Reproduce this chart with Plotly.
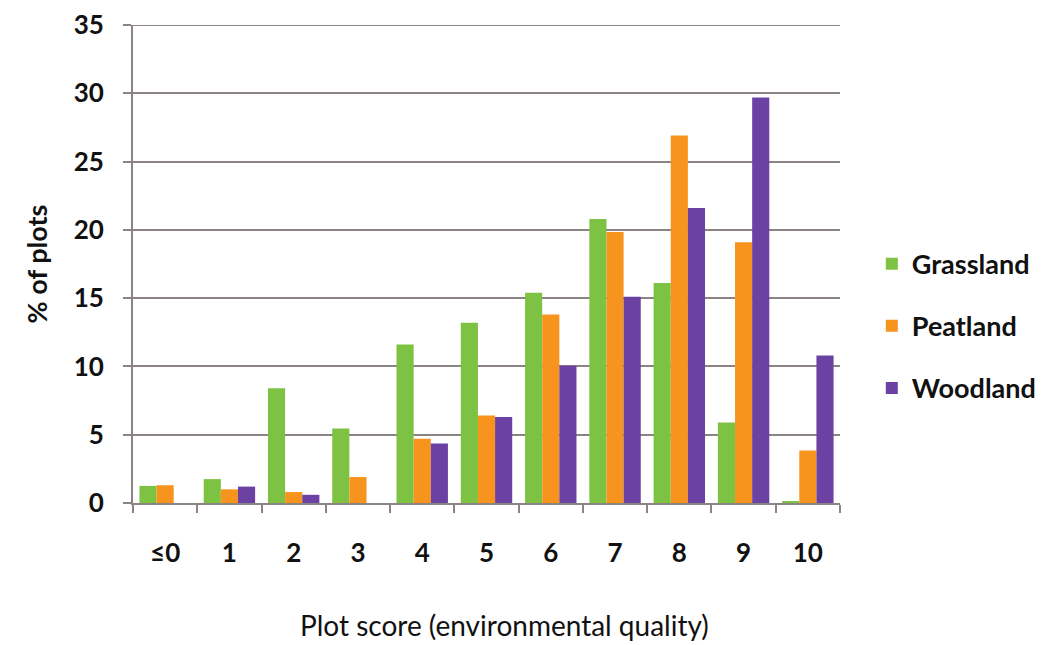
import plotly.graph_objects as go

categories = ["≤0", "1", "2", "3", "4", "5", "6", "7", "8", "9", "10"]
grassland = [1.25, 1.75, 8.4, 5.45, 11.6, 13.2, 15.4, 20.8, 16.1, 5.9, 0.1]
peatland = [1.3, 1.0, 0.8, 1.9, 4.7, 6.4, 13.8, 19.85, 26.9, 19.1, 3.85]
woodland = [0, 1.2, 0.6, 0, 4.35, 6.3, 10.05, 15.1, 21.6, 29.7, 10.8]
y_max = 35

series = [("Grassland", grassland, "#7dc242"),
          ("Peatland", peatland, "#f7941d"),
          ("Woodland", woodland, "#6b42a3")]

fig = go.Figure()
for name, vals, col in series:
    fig.add_trace(go.Bar(x=categories, y=vals, name=name, marker_color=col,
                         marker_line_width=0, legendgroup=name))

axis_col = "#8c8383"
font_family = "Lato, 'Open Sans', sans-serif"
fig.update_layout(
    width=1041, height=637,
    margin=dict(l=125, r=209, t=17, b=142, autoexpand=False),
    paper_bgcolor="white", plot_bgcolor="white",
    barmode="group", bargap=0.2, bargroupgap=0.0,
    font=dict(family=font_family, color="#1a1a1a"),
    showlegend=True,
    legend=dict(x=1.045, y=0.37, xanchor="left", yanchor="middle",
                font=dict(size=27, family=font_family, color="#111", weight="bold"),
                tracegroupgap=24, itemwidth=30, bgcolor="rgba(0,0,0,0)"),
    xaxis=dict(type="category", showline=True, linecolor=axis_col, linewidth=2,
               automargin=False,
               ticks="outside", tickson="boundaries", ticklen=8, tickwidth=2,
               tickcolor=axis_col, ticklabelstandoff=26,
               tickfont=dict(size=26, family=font_family, color="#111", weight="bold"),
               showgrid=False),
    yaxis=dict(range=[0, y_max], dtick=5, showline=True, linecolor=axis_col, linewidth=2,
               automargin=False, ticklabeloverflow="allow",
               ticks="outside", ticklen=8, tickwidth=2, tickcolor=axis_col,
               ticklabelstandoff=14,
               tickfont=dict(size=26, family=font_family, color="#111", weight="bold"),
               showgrid=True, gridcolor=axis_col, gridwidth=2,
               zeroline=False,
               title=dict(text="% of plots",
                          font=dict(size=27, family=font_family, color="#111", weight="bold"),
                          standoff=18)),
    annotations=[dict(text="Plot score (environmental quality)", xref="paper", yref="paper",
                      x=0.526, y=-0.256, xanchor="center", yanchor="middle",
                      showarrow=False,
                      font=dict(size=28, family=font_family, color="#111"))],
)
# top gridline (plotly omits the grid line on the plot edge)
fig.add_shape(type="line", xref="paper", yref="y", x0=0, x1=1, y0=y_max, y1=y_max,
              line=dict(color=axis_col, width=2), layer="below")

fig.write_html("out.html")
